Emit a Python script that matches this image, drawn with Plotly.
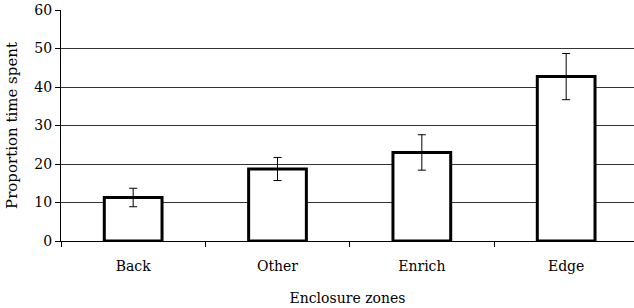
import plotly.graph_objects as go

categories = ["Back", "Other", "Enrich", "Edge"]
values = [11.3, 18.7, 23.0, 42.7]
errors = [2.4, 3.0, 4.6, 6.0]
y_ticks = [0, 10, 20, 30, 40, 50, 60]

xpos = list(range(len(categories)))
fam = "DejaVu Serif, serif"
font = dict(family=fam, size=14, color="black")

fig = go.Figure()
fig.add_trace(go.Bar(
    x=xpos, y=values, width=0.4,
    marker=dict(color="white", line=dict(color="black", width=3)),
    error_y=dict(type="data", array=errors, color="black", thickness=1, width=4),
))

fig.update_layout(
    width=634, height=308,
    margin=dict(l=61, r=0, t=10, b=67),
    paper_bgcolor="white", plot_bgcolor="white",
    showlegend=False, font=font,
    xaxis=dict(
        range=[-0.5, 3.47], tickmode="array", tickvals=xpos, ticktext=categories,
        ticks="", showline=True, linecolor="black", linewidth=1, showgrid=False,
        zeroline=False, automargin=False, ticklabelstandoff=12,
        tickfont=dict(family=fam, size=14, color="black"),
        minor=dict(tickmode="array", tickvals=[-0.5, 0.5, 1.5, 2.5, 3.5],
                   ticks="outside", ticklen=5, tickcolor="black", tickwidth=1, showgrid=False),
        title=dict(text="Enclosure zones", standoff=20,
                   font=dict(family=fam, size=14, color="black")),
        fixedrange=True,
    ),
    yaxis=dict(
        range=[0, 60], tickmode="array", tickvals=y_ticks,
        ticks="outside", ticklen=5, tickcolor="black", automargin=False,
        tickfont=dict(family=fam, size=14, color="black"),
        showline=True, linecolor="black", linewidth=1,
        showgrid=True, gridcolor="#333333", gridwidth=1, zeroline=False,
        title=dict(text="Proportion time spent", standoff=13,
                   font=dict(family=fam, size=15, color="black")),
    ),
)

fig.write_html("out.html", config={"displayModeBar": False, "staticPlot": True},
               post_script="document.body.style.margin='0';")
